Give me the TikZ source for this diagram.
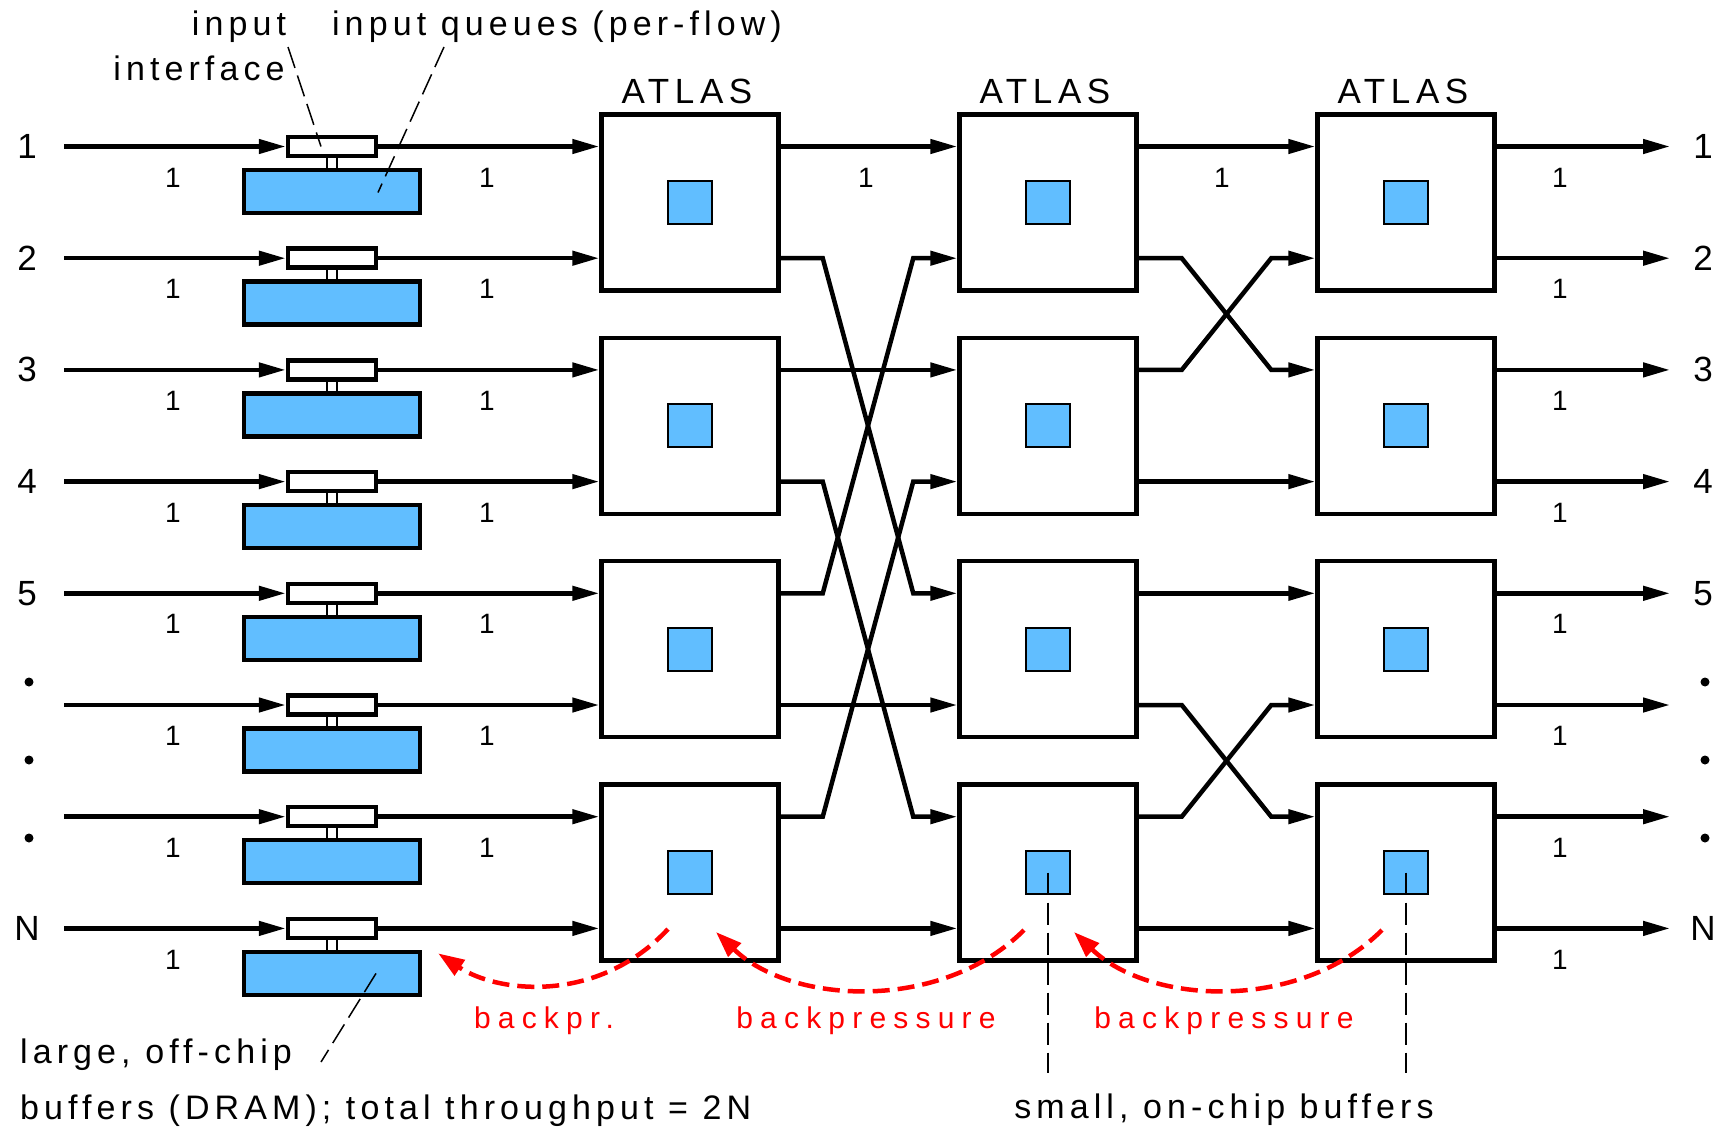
\documentclass[tikz,border=0pt]{standalone}
\usepackage{fontspec}
\setmainfont{Liberation Sans}
\newfontfamily\spaced[LetterSpace=15]{Liberation Sans}
\newfontfamily\wide[LetterSpace=24]{Liberation Sans}
\newfontfamily\atl[LetterSpace=16]{Liberation Sans}
\usetikzlibrary{arrows.meta,calc}

\definecolor{bufblue}{RGB}{97,190,255}

\begin{document}
\begin{tikzpicture}[x=1pt, y=-1pt,
  every node/.style={inner sep=0pt},
  ifbox/.style={draw, line width=4.5pt, fill=white, minimum width=88pt, minimum height=19pt},
  bufbox/.style={draw, line width=4.5pt, fill=bufblue, minimum width=176pt, minimum height=43pt},
  atlas/.style={draw, line width=4.5pt, fill=white, minimum width=177pt, minimum height=176pt},
  chip/.style={draw, line width=2pt, fill=bufblue, minimum width=44pt, minimum height=43pt},
  link/.style={line width=4.5pt, -{Triangle[length=27pt,width=14pt]}},
  bp/.style={red, line width=4.5pt, dash pattern=on 17pt off 8pt, -{Triangle[length=26pt,width=18pt]}},
  leader/.style={line width=1.5pt, dash pattern=on 22pt off 8pt},
  num/.style={font=\fontsize{35}{40}\selectfont},
  rate/.style={font=\fontsize{28}{32}\selectfont},
  lbl/.style={font=\fontsize{34}{40}\selectfont\spaced},
  redlbl/.style={red, font=\fontsize{30}{36}\selectfont\wide},
  dot/.style={circle, fill, minimum size=9pt},
]
  \useasboundingbox (0,0) rectangle (1727,1127);

  % three stages of ATLAS chips, four per stage
  \foreach \j in {1,2,3} {
    \node[font=\fontsize{35}{40}\selectfont\atl, anchor=base] (t\j) at ({687+(\j-1)*358},103) {ATLAS};
    \foreach \k in {1,...,4} {
      \node[atlas] (s\j\k) at ({690+(\j-1)*358},{202.35+(\k-1)*223.4}) {};
      \node[chip] (q\j\k) at (s\j\k) {};
    }
  }

  % rows: interface, off-chip buffer, ports of the chips
  \foreach \i in {1,...,8} {
    \pgfmathsetmacro\y{146.5+(\i-1)*111.7}
    \pgfmathtruncatemacro\k{(\i+1)/2}
    \coordinate (src\i) at (64,\y);
    \coordinate (dst\i) at (1670,\y);
    \node[ifbox] (if\i) at (332,\y) {};
    \node[bufbox] (buf\i) at (332,\y+45) {};
    \draw[line width=2pt] ($(if\i.south)+(-5,0)$) -- ($(buf\i.north)+(-5,0)$);
    \draw[line width=2pt] ($(if\i.south)+(5,0)$) -- ($(buf\i.north)+(5,0)$);
    \foreach \j in {1,2,3} {
      \coordinate (in\j-\i) at (s\j\k.west |- src\i);
      \coordinate (out\j-\i) at (s\j\k.east |- src\i);
    }
    \draw[link] (src\i) -- (if\i.west);
    \draw[link] (if\i.east) -- (in1-\i);
    \draw[link] (out3-\i) -- (dst\i);
    \node[rate] (ra\i) at (173,\y+31) {1};
    \node[rate] (rc\i) at (1560,\y+31) {1};
  }
  \foreach \i in {1,...,7}
    \node[rate] (rb\i) at (487,{177.5+(\i-1)*111.7}) {1};

  % stage 1 -> stage 2 and stage 2 -> stage 3
  \foreach \a/\b in {1/1,2/5,3/3,4/7,5/2,6/6,7/4,8/8}
    \draw[link] (out1-\a) -- ++(42,0) -- ($(in2-\b)+(-44,0)$) -- (in2-\b);
  \foreach \a/\b in {1/1,2/3,3/2,4/4,5/5,6/7,7/6,8/8}
    \draw[link] (out2-\a) -- ++(43,0) -- ($(in3-\b)+(-44,0)$) -- (in3-\b);
  \node[rate] (r12) at (866,178) {1};
  \node[rate] (r23) at (1222,178) {1};

  % port numbers
  \foreach \i/\t in {1/1,2/2,3/3,4/4,5/5,8/N} {
    \node[num] (pl\i) at (27,{146.5+(\i-1)*111.7}) {\t};
    \node[num] (pr\i) at (1703,{146.5+(\i-1)*111.7}) {\t};
  }
  \foreach \yy [count=\n] in {682,760,838} {
    \node[dot] (dl\n) at (29,\yy) {};
    \node[dot] (dr\n) at (1705,\yy) {};
  }

  % captions
  \node[lbl, anchor=base] (tin) at (239,35) {input};
  \node[lbl, anchor=base] (tif) at (199,80) {interface};
  \node[lbl, anchor=base] (tq) at (557,35) {input queues (per-flow)};
  \node[lbl, anchor=base west] (tlarge) at (20,1063) {large, off-chip};
  \node[lbl, anchor=base west] (tdram) at (20,1119) {buffers (DRAM); total throughput = 2N};
  \node[lbl, anchor=base] (tsmall) at (1224,1118) {small, on-chip buffers};

  \draw[leader] (288,47) -- ($(if1)+(-11,0)$);
  \draw[leader] (444,47) -- ($(buf1)+(46,1)$);
  \draw[leader] ($(buf8)+(44,0)$) -- (321,1062);
  \draw[leader] (q24.center) -- ++(0,200);
  \draw[leader] (q34.center) -- ++(0,200);

  % backpressure
  \draw[bp] ($(s14.center)+(-22,56.5)$) .. controls +(-70,75) and +(60,40) .. ($(buf8.east)+(16,-20)$);
  \draw[bp] ($(s24.center)+(-24,57.5)$) .. controls +(-82,82) and +(76,73) .. ($(s14.center)+(26,59.5)$);
  \draw[bp] ($(s34.center)+(-24,57.5)$) .. controls +(-82,82) and +(76,73) .. ($(s24.center)+(26,59.5)$);
  \node[redlbl, anchor=base] (bp1) at (544,1028) {backpr.};
  \node[redlbl, anchor=base] (bp2) at (866,1028) {backpressure};
  \node[redlbl, anchor=base] (bp3) at (1224,1028) {backpressure};
\end{tikzpicture}
\end{document}
